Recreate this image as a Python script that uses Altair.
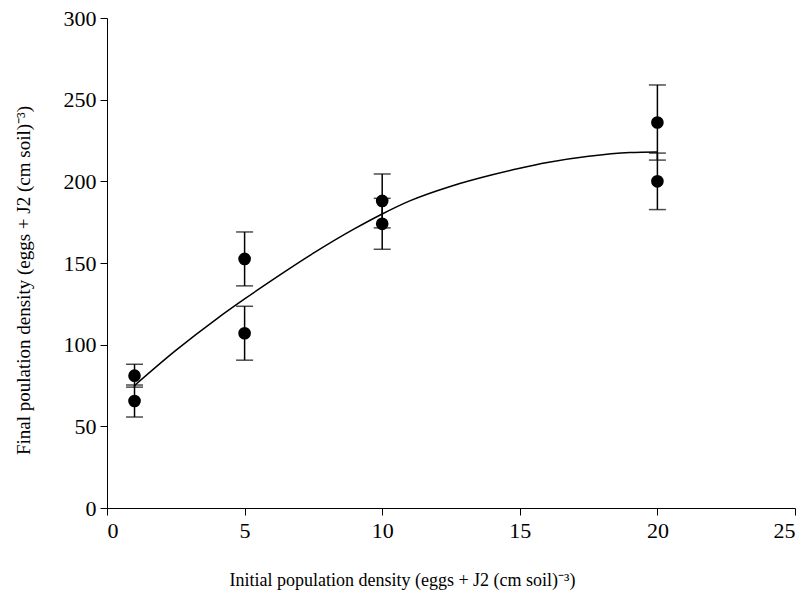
import altair as alt
import pandas as pd

# Observed points (mean) and their error half-widths
x_vals = [1, 1, 5, 5, 10, 10, 20, 20]
y_vals = [81, 65.5, 152.5, 107, 188, 174, 236, 200]
err_vals = [7, 9.8, 16.5, 16.5, 16.5, 15.6, 23, 17.3]

# Fitted curve
curve_x = [1, 2.5, 4, 5, 6, 7.5, 9, 10, 11, 12.5, 14, 15, 16, 17.5, 19, 20]
curve_y = [75, 96.5, 116, 128, 139.5, 156, 171, 180, 188, 197, 204, 208, 211.5, 215.3, 217.6, 218]

x_ticks = [0, 5, 10, 15, 20, 25]
y_ticks = [0, 50, 100, 150, 200, 250, 300]

pts = pd.DataFrame({"x": x_vals, "y": y_vals, "e": err_vals})
pts["lo"] = pts["y"] - pts["e"]
pts["hi"] = pts["y"] + pts["e"]
curve = pd.DataFrame({"x": curve_x, "y": curve_y})

FONT = "Liberation Serif"

xscale = alt.Scale(domain=[0, 25], nice=False, zero=False)
yscale = alt.Scale(domain=[0, 300], nice=False)

xaxis = alt.Axis(
    values=x_ticks, title="Initial population density (eggs + J2 (cm soil)\u207b\u00b3)",
    grid=False, domainColor="black", tickColor="black", tickSize=7,
    labelFont=FONT, labelFontSize=22, labelColor="black", labelPadding=5,
    titleFont=FONT, titleFontSize=18, titleFontWeight="normal", titleColor="black",
    titleX=295, titleY=72, titleBaseline="middle", titleAlign="center",
)
yaxis = alt.Axis(
    values=y_ticks, title="Final poulation density (eggs + J2 (cm soil)\u207b\u00b3)",
    grid=False, domainColor="black", tickColor="black", tickSize=7,
    labelFont=FONT, labelFontSize=22, labelColor="black", labelPadding=4,
    titleFont=FONT, titleFontSize=19, titleFontWeight="normal", titleColor="black",
    titleX=-84, titleY=262, titleAngle=270, titleBaseline="middle", titleAlign="center",
)

base_pts = alt.Chart(pts)

bars = base_pts.mark_rule(color="black", strokeWidth=1.5).encode(
    x=alt.X("x:Q", scale=xscale, axis=xaxis),
    y=alt.Y("lo:Q", scale=yscale, axis=yaxis),
    y2="hi:Q",
)
cap_lo = base_pts.mark_tick(color="black", orient="horizontal", size=17, thickness=1.5).encode(
    x=alt.X("x:Q", scale=xscale), y=alt.Y("lo:Q", scale=yscale)
)
cap_hi = base_pts.mark_tick(color="black", orient="horizontal", size=17, thickness=1.5).encode(
    x=alt.X("x:Q", scale=xscale), y=alt.Y("hi:Q", scale=yscale)
)
line = alt.Chart(curve).mark_line(color="black", strokeWidth=1.5, interpolate="monotone").encode(
    x=alt.X("x:Q", scale=xscale), y=alt.Y("y:Q", scale=yscale)
)
dots = base_pts.mark_circle(color="black", opacity=1, size=160).encode(
    x=alt.X("x:Q", scale=xscale), y=alt.Y("y:Q", scale=yscale)
)

chart = alt.layer(bars, cap_lo, cap_hi, line, dots).properties(
    width=688, height=490,
    autosize=alt.AutoSizeParams(type="none"),
    padding={"left": 107, "top": 18, "right": 8, "bottom": 92},
    background="white",
).configure_view(stroke=None)

chart.save("out.html", embed_options={"renderer": "svg", "actions": False})
